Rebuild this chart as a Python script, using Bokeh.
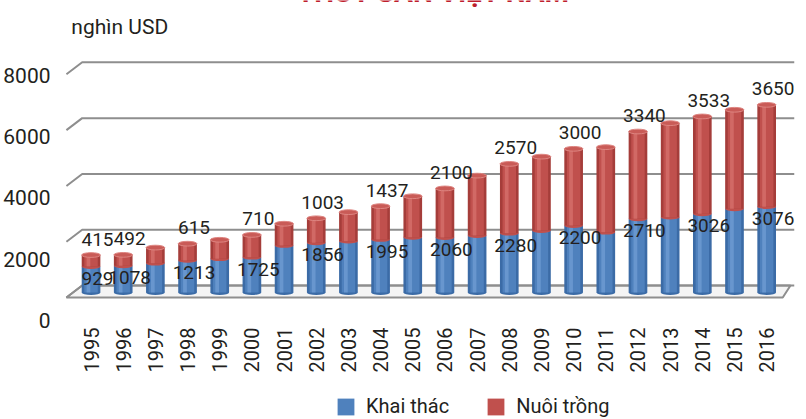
import math
from bokeh.plotting import figure
from bokeh.layouts import column
from bokeh.models import (Range1d, LinearAxis, FixedTicker, Legend, LegendItem,
                          ColumnDataSource)
from bokeh.core.properties import value
from bokeh.embed import file_html
from bokeh.resources import INLINE

# ---------------- data ----------------
years = [str(y) for y in range(1995, 2017)]
khai_thac = [929, 955, 1050, 1150, 1210, 1265, 1685, 1780, 1840, 1900, 1980,
             1970, 2040, 2125, 2220, 2400, 2160, 2640, 2700, 2820, 3000, 3076]
nuoi_trong = [415, 395, 560, 600, 680, 800, 780, 880, 1040, 1195, 1470,
              1760, 2150, 2485, 2650, 2750, 3050, 3130, 3370, 3490, 3550, 3650]
label_years = ["1995", "1996", "1998", "2000", "2002", "2004", "2006",
               "2008", "2010", "2012", "2014", "2016"]
label_khai = [929, 1078, 1213, 1725, 1856, 1995, 2060, 2280, 2200, 2710, 3026, 3076]
label_nuoi = [415, 492, 615, 710, 1003, 1437, 2100, 2570, 3000, 3340, 3533, 3650]
y_ticks = [0, 2000, 4000, 6000, 8000]
title_text = "THỦY SẢN VIỆT NAM"
unit_text = "nghìn USD"
series_names = ["Khai thác", "Nuôi trồng"]

# ---------------- style ----------------
FONT = "Roboto"
TXT = "#231F20"
GRID = "#8E8E8E"
BLUE_D, BLUE_M, BLUE_L = "#3B6BA6", "#4F81BD", "#739FD6"
RED_D, RED_M, RED_L = "#A53D3A", "#C0504D", "#D8746F"
BAR_W = 0.58
CAP_H = 170          # ellipse height (data units)
BACK_DY = 250        # back wall offset
FRONT_DY = -180      # front edge offset
BACK_X, FRONT_X = -0.275, -0.765
LABEL_DX = 0.2

x = list(range(len(years)))
total = [a + b for a, b in zip(khai_thac, nuoi_trong)]
src = ColumnDataSource(dict(x=x, kt=khai_thac, tot=total,
                            xl=[i - 0.08 for i in x]))

p = figure(width=798, height=377,
           x_range=Range1d(-0.887, 21.865), y_range=Range1d(-1039, 10466),
           output_backend="svg", toolbar_location=None,
           x_axis_location=None, y_axis_location=None,
           min_border_left=50, min_border_right=4, min_border_top=0,
           min_border_bottom=56)
p.outline_line_color = None
p.xgrid.visible = False
p.ygrid.visible = False
p.background_fill_color = "white"
p.border_fill_color = "white"

# y axis (front plane labels)
p.extra_y_ranges = {"lab": Range1d(-33, 10449)}
yax = LinearAxis(y_range_name="lab", ticker=FixedTicker(ticks=y_ticks))
yax.axis_line_color = None
yax.major_tick_line_color = None
yax.minor_tick_line_color = None
yax.major_label_standoff = 6
yax.major_label_text_font = FONT
yax.major_label_text_font_size = "21px"
yax.major_label_text_color = TXT
p.add_layout(yax, "left")

# x axis
xax = LinearAxis(ticker=FixedTicker(ticks=x),
                 major_label_overrides={i: years[i] for i in x},
                 major_label_orientation=math.pi / 2)
xax.axis_line_color = None
xax.major_tick_line_color = None
xax.minor_tick_line_color = None
xax.major_label_standoff = 0
xax.major_label_text_font = FONT
xax.major_label_text_font_size = "20px"
xax.major_label_text_color = TXT
p.add_layout(xax, "below")

# floor
p.patch([FRONT_X, 21.5, 21.74, BACK_X],
        [FRONT_DY, FRONT_DY, BACK_DY, BACK_DY],
        fill_color="#F4F4F4", line_color=GRID, line_width=2)

# back-wall gridlines with perspective stubs
p.multi_line([[FRONT_X, BACK_X, 21.865] for v in y_ticks],
             [[v + FRONT_DY, v + BACK_DY, v + BACK_DY] for v in y_ticks],
             line_color=GRID, line_width=2)

# cylinders: blue part
p.ellipse(x="x", y=0, width=BAR_W, height=CAP_H, source=src,
          fill_color=BLUE_D, line_color=None)
p.vbar(x="x", bottom=0, top="kt", width=BAR_W, source=src,
       fill_color=BLUE_D, line_color=None)
p.vbar(x="x", bottom=0, top="kt", width=BAR_W * 0.72, source=src,
       fill_color=BLUE_M, line_color=None)
p.vbar(x="xl", bottom=0, top="kt", width=BAR_W * 0.2, source=src,
       fill_color=BLUE_L, line_color=None, fill_alpha=0.7)

# red part
p.ellipse(x="x", y="kt", width=BAR_W, height=CAP_H, source=src,
          fill_color=RED_M, line_color=None)
p.vbar(x="x", bottom="kt", top="tot", width=BAR_W, source=src,
       fill_color=RED_D, line_color=None)
p.vbar(x="x", bottom="kt", top="tot", width=BAR_W * 0.72, source=src,
       fill_color=RED_M, line_color=None)
p.vbar(x="xl", bottom="kt", top="tot", width=BAR_W * 0.2, source=src,
       fill_color=RED_L, line_color=None, fill_alpha=0.7)
p.ellipse(x="x", y="tot", width=BAR_W, height=CAP_H, source=src,
          fill_color="#C95B57", line_color="#DE8581", line_width=1)

# value labels
idx = [years.index(y) for y in label_years]
lab_x = [i + LABEL_DX for i in idx]
p.text(x=lab_x, y=[total[i] + 570 for i in idx], text=[str(v) for v in label_nuoi],
       text_font=value(FONT), text_font_size="19px", text_color=TXT,
       text_align="center", text_baseline="middle")
p.text(x=lab_x, y=[khai_thac[i] - 430 for i in idx], text=[str(v) for v in label_khai],
       text_font=value(FONT), text_font_size="19px", text_color=TXT,
       text_align="center", text_baseline="middle")

# unit text and the (cropped) title
p.text(x=[-0.612], y=[9499], text=[unit_text], text_font=value(FONT),
       text_font_size="21px", text_color=TXT, text_align="left",
       text_baseline="alphabetic")
p.text(x=[10.64], y=[10753], text=[title_text], text_font=value(FONT),
       text_font_size="28px", text_font_style="bold", text_color="#BE1E2D",
       text_align="center", text_baseline="alphabetic")

# ---------------- legend strip ----------------
q = figure(width=798, height=42, x_range=Range1d(0, 1), y_range=Range1d(0, 1),
           output_backend="svg", toolbar_location=None,
           x_axis_location=None, y_axis_location=None,
           min_border_left=0, min_border_right=0, min_border_top=0,
           min_border_bottom=0)
q.outline_line_color = None
q.xgrid.visible = False
q.ygrid.visible = False
rb = q.vbar(x=[0.5], bottom=[0], top=[0], width=0.1, fill_color=BLUE_M,
            line_color=None)
rr = q.vbar(x=[0.5], bottom=[0], top=[0], width=0.1, fill_color=RED_M,
            line_color=None)
legend = Legend(items=[LegendItem(label=series_names[0], renderers=[rb]),
                       LegendItem(label=series_names[1], renderers=[rr])],
                orientation="horizontal", location=(273, 1),
                glyph_width=21, glyph_height=21, label_standoff=10, spacing=36,
                padding=0, margin=0, border_line_color=None,
                background_fill_alpha=0,
                label_text_font=FONT, label_text_font_size="20px",
                label_text_color=TXT)
q.add_layout(legend)

layout = column(p, q, spacing=0)
open("out.html", "w").write(file_html(layout, INLINE))
